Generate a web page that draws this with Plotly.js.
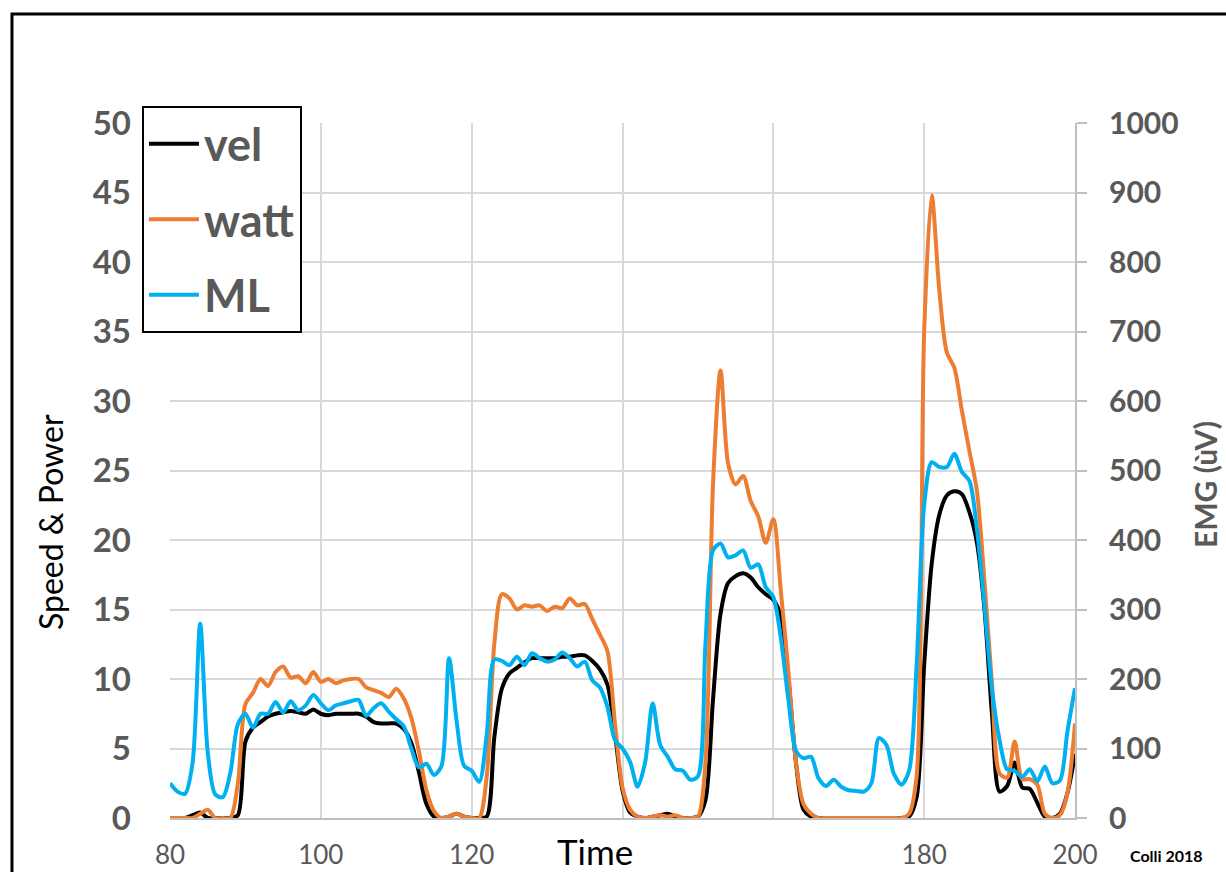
<!DOCTYPE html>
<html>
<head>
<meta charset="utf-8">
<script src="https://cdn.plot.ly/plotly-3.0.1.min.js"></script>
<style>
html,body{margin:0;padding:0;background:#fff;}
#chart{width:1226px;height:872px;}
</style>
</head>
<body>
<div id="chart"></div>
<script>
// Time (s)
const time = [80,81,82,83,84,85,86,87,88,89,
  90,91,92,93,94,95,96,97,98,99,
  100,101,102,103,104,105,106,107,108,109,
  110,111,112,113,114,115,116,117,118,119,
  120,121,122,123,124,125,126,127,128,129,
  130,131,132,133,134,135,136,137,138,139,
  140,141,142,143,144,145,146,147,148,149,
  150,151,152,153,154,155,156,157,158,159,
  160,161,162,163,164,165,166,167,168,169,
  170,171,172,173,174,175,176,177,178,179,
  180,181,182,183,184,185,186,187,188,189,
  190,191,192,193,194,195,196,197,198,199,
  200];

// Speed (left axis)
const vel = [0,0,0,0.2,0.4,0,0,0,0,0.2,
  5.5,6.5,6.9,7.3,7.5,7.6,7.7,7.6,7.5,7.8,
  7.5,7.4,7.5,7.5,7.5,7.5,7.3,6.9,6.8,6.8,
  6.8,6.4,5.4,3.3,1.0,0.1,0,0.1,0.3,0.1,
  0,0,0.1,5.8,9.3,10.4,10.8,11.2,11.5,11.5,
  11.5,11.5,11.6,11.6,11.7,11.7,11.3,10.7,9.6,6.1,
  2.0,0.4,0.1,0,0.1,0.2,0.3,0.1,0,0,
  0.1,1.3,8.5,14.7,16.9,17.4,17.6,17.3,16.6,16.1,
  15.7,14.5,10,4,0.6,0.1,0,0,0,0,
  0,0,0,0,0,0,0,0,0.1,1.5,
  11,18.3,21.8,23.2,23.5,23.3,22,19.8,15,7.4,
  1.9,2.3,4.0,2.2,2.1,1.1,0.1,0,0.3,1.8,
  4.6];

// Power (left axis)
const watt = [0,0,0,0,0.3,0.6,0,0,0,2.5,
  8.2,9,10,9.5,10.5,10.9,10.1,10.2,9.7,10.5,
  9.8,10,9.7,9.9,10,10,9.4,9.2,9,8.7,
  9.3,8.6,7.2,4.8,2.0,0.5,0,0.1,0.3,0.1,
  0,0,3,12.5,16.1,15.8,15,15.3,15.2,15.3,
  14.9,15.2,15.1,15.8,15.3,15.4,14.3,13.2,12,6.8,
  2.2,0.6,0.1,0,0.1,0.2,0.1,0.2,0,0,
  0.1,4,24,32.2,25.5,24,24.6,22.8,21.7,19.8,
  21.5,16.3,10.5,4,1,0.3,0,0,0,0,
  0,0,0,0,0,0,0,0,0.3,3,
  35,44.8,38,33.5,32.4,29.3,26.4,23.5,17,9.6,
  3.2,2.9,5.5,2.8,2.8,2.4,0.3,0,0.2,1.8,
  6.8];

// EMG (right axis, uV)
const ml = [50,38,35,80,280,95,34,30,65,135,
  150,130,150,150,167,152,168,155,162,177,
  165,155,162,165,168,170,147,158,165,153,
  142,132,100,73,78,62,75,230,140,75,
  68,52,120,228,226,220,232,220,237,230,
  225,228,238,230,218,225,198,188,160,112,
  100,81,45,80,165,105,88,70,68,55,
  60,250,385,395,375,378,385,360,365,332,
  318,258,170,97,86,88,57,46,55,45,
  40,39,38,50,115,105,63,48,68,220,
  450,512,505,505,524,498,485,415,305,185,
  112,70,68,59,70,53,74,50,54,125,
  187];

const xTickVals = [80,100,120,140,160,180,200];
const xTickText = ['80','100','120','','','180','200'];

const FONT = 'Lato, "Open Sans", sans-serif';
const GRAY = '#595959';

const traces = [
  {x: time, y: vel, name: 'vel', type: 'scatter', mode: 'lines', yaxis: 'y',
   legendgroup: 'a', line: {color: '#000000', width: 4, shape: 'spline', smoothing: 0.8}},
  {x: time, y: watt, name: 'watt', type: 'scatter', mode: 'lines', yaxis: 'y',
   legendgroup: 'b', line: {color: '#ED7D31', width: 4, shape: 'spline', smoothing: 0.8}},
  {x: time, y: ml, name: 'ML', type: 'scatter', mode: 'lines', yaxis: 'y2',
   legendgroup: 'c', line: {color: '#00B0F0', width: 4, shape: 'spline', smoothing: 0.8}}
];

const layout = {
  width: 1226, height: 872,
  margin: {l: 170, r: 151, t: 123, b: 54},
  paper_bgcolor: '#ffffff', plot_bgcolor: '#ffffff',
  showlegend: true,
  xaxis: {
    range: [80, 200], tickvals: xTickVals, ticktext: xTickText,
    showgrid: true, gridcolor: '#d9d9d9', gridwidth: 2,
    showline: true, linecolor: '#bfbfbf', linewidth: 2,
    zeroline: false, ticks: '', ticklabelstandoff: 13,
    tickfont: {family: FONT, size: 26, color: GRAY}
  },
  yaxis: {
    range: [0, 50], dtick: 5, tick0: 0,
    showgrid: true, gridcolor: '#d9d9d9', gridwidth: 2,
    showline: false, zeroline: false, ticks: '', ticklabelstandoff: 38,
    tickfont: {family: FONT, size: 33, color: GRAY, weight: 'bold'}
  },
  yaxis2: {
    overlaying: 'y', side: 'right', range: [0, 1000], dtick: 100, tick0: 0,
    showgrid: false, zeroline: false,
    showline: true, linecolor: '#bfbfbf', linewidth: 2,
    ticks: 'outside', ticklen: 10, tickwidth: 2, tickcolor: '#bfbfbf',
    ticklabelstandoff: 16,
    tickfont: {family: FONT, size: 30, color: GRAY, weight: 'bold'}
  },
  legend: {
    x: -0.031, y: 1.0245, xanchor: 'left', yanchor: 'top',
    bgcolor: '#ffffff', bordercolor: '#000000', borderwidth: 2,
    traceorder: 'grouped', tracegroupgap: 14, itemwidth: 50,
    font: {family: FONT, size: 45, color: GRAY, weight: 'bold'}
  },
  shapes: [
    {type: 'rect', xref: 'paper', yref: 'paper',
     x0: -0.1746, x1: 1.3, y0: -0.3, y1: 1.1568,
     line: {color: '#000000', width: 3}, fillcolor: 'rgba(0,0,0,0)', layer: 'above'}
  ],
  annotations: [
    {text: 'Speed &amp; Power', xref: 'paper', yref: 'paper',
     x: (50 - 170) / 905, y: (818 - 522) / 695, xanchor: 'center', yanchor: 'middle',
     textangle: -90, showarrow: false,
     font: {family: FONT, size: 32, color: '#000000'}},
    {text: 'EMG (ùV)', xref: 'paper', yref: 'paper',
     x: (1205 - 170) / 905, y: (818 - 485) / 695, xanchor: 'center', yanchor: 'middle',
     textangle: -90, showarrow: false,
     font: {family: FONT, size: 30, color: GRAY, weight: 'bold'}},
    {text: 'Time', xref: 'paper', yref: 'paper',
     x: (595 - 170) / 905, y: (818 - 851) / 695, xanchor: 'center', yanchor: 'middle',
     showarrow: false,
     font: {family: FONT, size: 35, color: '#000000'}},
    {text: 'Colli 2018', xref: 'paper', yref: 'paper',
     x: (1166 - 170) / 905, y: (818 - 855) / 695, xanchor: 'center', yanchor: 'middle',
     showarrow: false,
     font: {family: FONT, size: 16, color: '#000000', weight: 'bold'}}
  ]
};

Plotly.newPlot('chart', traces, layout, {displayModeBar: false, responsive: false});
</script>
</body>
</html>
